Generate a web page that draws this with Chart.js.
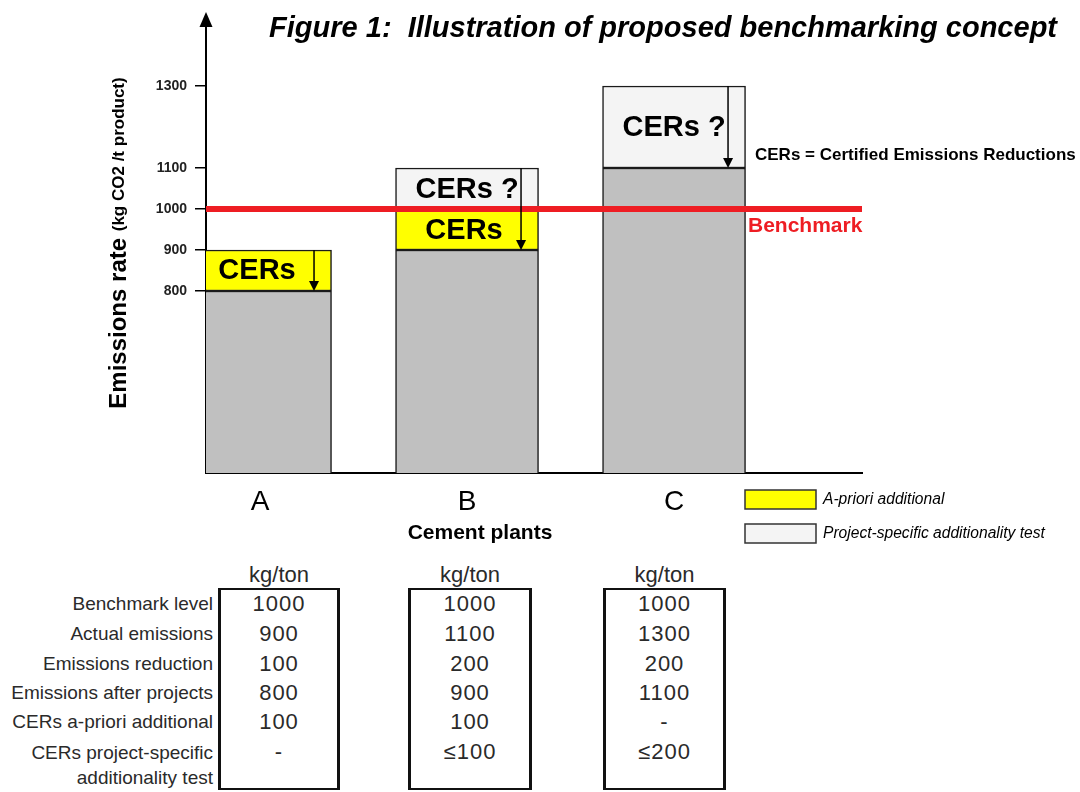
<!DOCTYPE html>
<html>
<head>
<meta charset="utf-8">
<script src="https://cdn.jsdelivr.net/npm/chart.js@4"></script>
<style>
body{margin:0;background:#fff;width:1080px;height:792px;overflow:hidden;position:relative;font-family:'Liberation Sans',Arial,sans-serif}
#wrap{position:absolute;left:0;top:0;width:1080px;height:560px}
.lbl{position:absolute;right:867px;text-align:right;font-size:19px;color:#2a2a2a;white-space:nowrap}
.box{position:absolute;top:588px;height:198px;border:2px solid #111;border-left-width:3px;border-right-width:3px}
.unit{position:absolute;top:562px;font-size:22px;color:#2a2a2a;text-align:center;width:130px}
.val{position:absolute;font-size:22px;color:#2a2a2a;text-align:center;width:130px;letter-spacing:1px;line-height:26px}
</style>
</head>
<body>
<div id="wrap"><canvas id="chart" width="1080" height="560"></canvas></div>
<div id="table"></div>
<script>
// chart values
plants = ['A', 'B', 'C']
plantX = [1, 2, 3]
afterProjects = [800, 900, 1100]   // emissions after projects (grey)
aprioriCERs = [100, 100, null]     // yellow part
projectCERs = [null, 100, 200]     // project-specific test part
benchmark = 1000
yTicks = [800, 900, 1000, 1100, 1300]

// table under the chart
rowLabels = ['Benchmark level', 'Actual emissions', 'Emissions reduction', 'Emissions after projects', 'CERs a-priori additional', 'CERs project-specific<br>additionality test']
tableA = ['1000', '900', '100', '800', '100', '-']
tableB = ['1000', '1100', '200', '900', '100', '≤100']
tableC = ['1000', '1300', '200', '1100', '-', '≤200']

font = "'Liberation Sans', Arial, sans-serif"

// html table
rowY = [604, 634, 664, 693, 722, 752]
t = document.getElementById('table')
html = ''
for (let i = 0; i < rowLabels.length; i++) {
  lh = i == rowLabels.length - 1 ? 25 : 26
  html += '<div class="lbl" style="top:' + (rowY[i] - lh / 2) + 'px;line-height:' + lh + 'px">' + rowLabels[i] + '</div>'
}
cols = [[tableA, 218, 340], [tableB, 408, 532], [tableC, 603, 726]]
cols.forEach(c => {
  let cx = (c[1] + c[2]) / 2
  html += '<div class="box" style="left:' + c[1] + 'px;width:' + (c[2] - c[1] - 6) + 'px"></div>'
  html += '<div class="unit" style="left:' + (cx - 65) + 'px">kg/ton</div>'
  for (let i = 0; i < c[0].length; i++) {
    html += '<div class="val" style="left:' + (cx - 65) + 'px;top:' + (rowY[i] - 13) + 'px">' + c[0][i] + '</div>'
  }
})
t.innerHTML = html

xMin = 0.739
xMax = 3.908

extras = {
  id: 'extras',
  afterDatasetsDraw(chart) {
    const ctx = chart.ctx
    const xs = chart.scales.x, ys = chart.scales.y
    ctx.save()
    for (let i = 0; i < plants.length; i++) {
      const cx = xs.getPixelForValue(plantX[i])
      let base = afterProjects[i]
      let a = aprioriCERs[i] || 0, p = projectCERs[i] || 0
      ctx.fillStyle = '#000'
      ctx.textAlign = 'center'
      ctx.textBaseline = 'middle'
      ctx.font = 'bold 29px ' + font
      if (a) ctx.fillText('CERs', cx - 3, ys.getPixelForValue(base + a / 2) + 1)
      if (p) ctx.fillText('CERs ?', cx, ys.getPixelForValue(base + a + p / 2) + 1)
      // arrow
      const ax = cx + 54
      const yt = ys.getPixelForValue(base + a + p)
      const yb = ys.getPixelForValue(base)
      ctx.strokeStyle = '#000'
      ctx.lineWidth = 1.5
      ctx.beginPath()
      ctx.moveTo(ax, yt)
      ctx.lineTo(ax, yb - 6)
      ctx.stroke()
      ctx.beginPath()
      ctx.moveTo(ax - 5, yb - 10)
      ctx.lineTo(ax + 5, yb - 10)
      ctx.lineTo(ax, yb)
      ctx.closePath()
      ctx.fill()
    }
    ctx.restore()
  },
  afterDraw(chart) {
    const ctx = chart.ctx
    const area = chart.chartArea
    ctx.save()
    // arrow head of the y axis
    ctx.fillStyle = '#000'
    ctx.beginPath()
    ctx.moveTo(area.left, 12)
    ctx.lineTo(area.left - 6.5, 27)
    ctx.lineTo(area.left + 6.5, 27)
    ctx.closePath()
    ctx.fill()
    // title
    ctx.textBaseline = 'middle'
    ctx.textAlign = 'right'
    ctx.font = 'italic bold 29px ' + font
    ctx.fillText('Figure 1:  Illustration of proposed benchmarking concept', 1057, 29)
    // y axis title
    ctx.save()
    ctx.translate(119, 243)
    ctx.rotate(-Math.PI / 2)
    ctx.textAlign = 'left'
    const t1 = 'Emissions rate '
    ctx.font = 'bold 24px ' + font
    const w1 = ctx.measureText(t1).width
    ctx.font = 'bold 17px ' + font
    const t2 = '(kg CO2 /t product)'
    const w2 = ctx.measureText(t2).width
    let sx = -(w1 + w2) / 2
    ctx.font = 'bold 24px ' + font
    ctx.fillText(t1, sx, 0)
    ctx.font = 'bold 17px ' + font
    ctx.fillText(t2, sx + w1, 0)
    ctx.restore()
    // x axis title
    ctx.textAlign = 'center'
    ctx.font = 'bold 21px ' + font
    ctx.fillText('Cement plants', 480, 533)
    // notes
    ctx.textAlign = 'left'
    ctx.font = 'bold 17px ' + font
    ctx.fillText('CERs = Certified Emissions Reductions', 755, 155)
    ctx.fillStyle = '#ee1d23'
    ctx.font = 'bold 21px ' + font
    ctx.fillText('Benchmark', 748, 226)
    // legend
    const leg = [['#ffff00', 'A-priori additional', 499], ['#f4f4f4', 'Project-specific additionality test', 533]]
    leg.forEach(l => {
      ctx.fillStyle = l[0]
      ctx.strokeStyle = '#333'
      ctx.lineWidth = 1.5
      ctx.fillRect(745, l[2] - 9, 71, 19)
      ctx.strokeRect(745, l[2] - 9, 71, 19)
      ctx.fillStyle = '#000'
      ctx.font = 'italic 15.6px ' + font
      ctx.fillText(l[1], 823, l[2] + 1)
    })
    ctx.restore()
  }
}

barStyle = {borderColor: '#1a1a1a', borderWidth: 1.5, borderSkipped: false, grouped: false, barThickness: 143, order: 1}

new Chart(document.getElementById('chart'), {
  type: 'bar',
  data: {
    datasets: [
      Object.assign({label: 'Emissions after projects', backgroundColor: '#c0c0c0',
        data: plantX.map((x, i) => ({x: x, y: afterProjects[i]}))}, barStyle),
      Object.assign({label: 'A-priori additional', backgroundColor: '#ffff00',
        data: plantX.map((x, i) => ({x: x, y: aprioriCERs[i]}))}, barStyle),
      Object.assign({label: 'Project-specific additionality test', backgroundColor: '#f4f4f4',
        data: plantX.map((x, i) => ({x: x, y: projectCERs[i]}))}, barStyle),
      {type: 'line', label: 'Benchmark', stack: 'bench', order: 0,
        data: [{x: xMin, y: benchmark}, {x: xMax, y: benchmark}],
        borderColor: '#ee1d23', borderWidth: 6, pointRadius: 0, fill: false}
    ]
  },
  options: {
    responsive: false,
    animation: false,
    layout: {padding: {top: 27, left: 0, right: 218, bottom: 0}},
    plugins: {legend: {display: false}, tooltip: {enabled: false}},
    scales: {
      x: {
        type: 'linear', min: xMin, max: xMax, offset: false,
        grid: {display: false},
        border: {color: '#000', width: 2},
        afterBuildTicks: s => { s.ticks = plantX.map(v => ({value: v})) },
        afterFit: s => { s.height = 87 },
        ticks: {callback: v => plants[v - 1], color: '#000', padding: 4, maxRotation: 0, autoSkip: false,
          font: {family: font, size: 28}}
      },
      y: {
        stacked: true, min: 356, max: 1444,
        afterBuildTicks: s => { s.ticks = yTicks.map(v => ({value: v})) },
        afterFit: s => { s.width = 206 },
        grid: {drawOnChartArea: false, tickLength: 11, color: '#000', lineWidth: 1.5},
        border: {color: '#000', width: 2},
        ticks: {callback: v => String(v), color: '#222', padding: 8, font: {family: font, size: 14, weight: 'bold'}}
      }
    }
  },
  plugins: [extras]
})
</script>
</body>
</html>
